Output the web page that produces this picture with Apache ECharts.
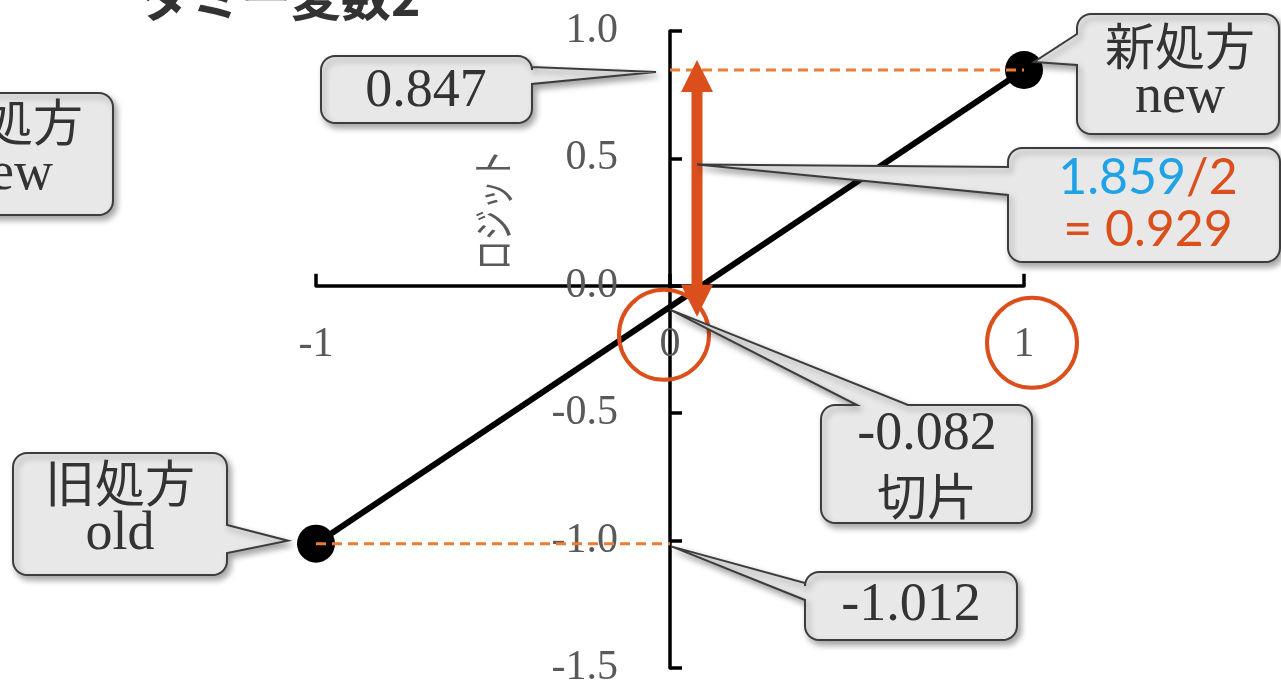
<!DOCTYPE html>
<html>
<head>
<meta charset="utf-8">
<script src="https://cdn.jsdelivr.net/npm/echarts@6/dist/echarts.min.js"></script>
<style>
  html, body { margin: 0; padding: 0; background: #ffffff; }
  #main { width: 1281px; height: 684px; }
</style>
</head>
<body>
<div id="main"></div>
<script>
// ---- data ----
const titleText = 'ダミー変数2';
const yAxisName = 'ロジット';
const xTickValues = [-1, 0, 1];
const yTickValues = [-1.5, -1.0, -0.5, 0.0, 0.5, 1.0];
const groupCodes = [-1, 1];            // 旧処方 = -1, 新処方 = 1
const groupNames = ['旧処方', '新処方'];
const groupNamesEn = ['old', 'new'];
const logitValues = [-1.012, 0.847];
const interceptValue = -0.082;
const diffText = '1.859';
const halfDiffText = '0.929';

// ---- colours / fonts ----
const SERIF = '"Liberation Serif", "DejaVu Serif", serif';
const CJK = '"Noto Sans CJK JP", "Noto Sans", sans-serif';
const SANS = 'Lato, "Noto Sans", sans-serif';
const AXIS_GREY = '#595959';
const TEXT_DARK = '#333333';
const ORANGE = '#ED7D31';
const RED_ORANGE = '#DA4F1C';
const BLUE = '#1FA2E6';
const BOX_FILL = '#E8E8E8';
const BOX_EDGE = '#3C3C3C';

// ---- layout of the plotting area ----
const W = 1281, H = 684;
const GRID = { left: 316, right: 257, top: 31, bottom: 16 };
const gridW = W - GRID.left - GRID.right;
const gridH = H - GRID.top - GRID.bottom;
const xMin = xTickValues[0], xMax = xTickValues[xTickValues.length - 1];
const yMin = yTickValues[0], yMax = yTickValues[yTickValues.length - 1];
// axes cross at the origin: shift each axis from the grid edge onto zero of the other one
const yAxisShift = gridW * (0 - xMin) / (xMax - xMin);
const xAxisShift = gridH * (0 - yMin) / (yMax - yMin);

const chart = echarts.init(document.getElementById('main'), null, { renderer: 'canvas' });

const linePoints = groupCodes.map((x, i) => [x, logitValues[i]]);
const guideNew = [[0, logitValues[1]], [groupCodes[1], logitValues[1]]];
const guideOld = [[groupCodes[0], logitValues[0]], [0, logitValues[0]]];

chart.setOption({
  animation: false,
  backgroundColor: '#ffffff',
  grid: Object.assign({ containLabel: false, outerBoundsMode: 'none' }, GRID),
  xAxis: {
    type: 'value', position: 'bottom', offset: -xAxisShift,
    min: xMin, max: xMax, interval: 1,
    axisLine: { show: true, onZero: false, lineStyle: { color: '#000', width: 3.5 } },
    axisTick: { show: true, inside: true, length: 12, lineStyle: { color: '#000', width: 3.5 } },
    axisLabel: {
      margin: 38, fontSize: 42, fontFamily: SERIF, color: AXIS_GREY,
      formatter: v => String(v)
    },
    splitLine: { show: false }
  },
  yAxis: {
    type: 'value', position: 'left', offset: -yAxisShift,
    min: yMin, max: yMax, interval: 0.5,
    axisLine: { show: true, onZero: false, lineStyle: { color: '#000', width: 3.5 } },
    axisTick: { show: true, inside: true, length: 12, lineStyle: { color: '#000', width: 3.5 } },
    axisLabel: {
      margin: 52, fontSize: 42, fontFamily: SERIF, color: AXIS_GREY,
      formatter: v => v.toFixed(1)
    },
    splitLine: { show: false }
  },
  series: [
    {
      name: 'logit',
      type: 'line',
      data: linePoints,
      symbol: 'circle',
      symbolSize: 38,
      itemStyle: { color: '#000' },
      lineStyle: { color: '#000', width: 6 },
      z: 3
    },
    {
      name: 'guide-new',
      type: 'line',
      data: guideNew,
      symbol: 'none',
      lineStyle: { color: ORANGE, width: 3, type: [10, 6] },
      z: 4
    },
    {
      name: 'guide-old',
      type: 'line',
      data: guideOld,
      symbol: 'none',
      lineStyle: { color: ORANGE, width: 3, type: [10, 6] },
      z: 4
    }
  ]
});

// ---- annotations (callouts, arrow, circles) ----
function arcPts(cx, cy, r, a0, a1, n) {
  const p = [];
  for (let i = 0; i <= n; i++) {
    const a = a0 + (a1 - a0) * i / n;
    p.push([cx + r * Math.cos(a), cy + r * Math.sin(a)]);
  }
  return p;
}

// rounded box with a wedge pointing at `tip`, wedge base between a and b on the given side
function calloutPoints(box, wedge) {
  const { x, y, w, h } = box; const r = 14; const pts = [];
  pts.push(...arcPts(x + r, y + r, r, Math.PI, 1.5 * Math.PI, 8));
  if (wedge && wedge.side === 'top') pts.push([wedge.a, y], wedge.tip, [wedge.b, y]);
  pts.push(...arcPts(x + w - r, y + r, r, 1.5 * Math.PI, 2 * Math.PI, 8));
  if (wedge && wedge.side === 'right') pts.push([x + w, wedge.a], wedge.tip, [x + w, wedge.b]);
  pts.push(...arcPts(x + w - r, y + h - r, r, 0, 0.5 * Math.PI, 8));
  if (wedge && wedge.side === 'bottom') pts.push([wedge.b, y + h], wedge.tip, [wedge.a, y + h]);
  pts.push(...arcPts(x + r, y + h - r, r, 0.5 * Math.PI, Math.PI, 8));
  if (wedge && wedge.side === 'left') pts.push([x, wedge.b], wedge.tip, [x, wedge.a]);
  return pts;
}

function calloutShape(box, wedge) {
  return {
    type: 'polygon',
    z: 100,
    shape: { points: calloutPoints(box, wedge) },
    style: {
      fill: BOX_FILL, stroke: BOX_EDGE, lineWidth: 2,
      shadowBlur: 6, shadowOffsetX: 3, shadowOffsetY: 4, shadowColor: 'rgba(0,0,0,0.35)'
    }
  };
}

function label(text, x, y, font, size, color) {
  return {
    type: 'text', z: 101, x: x, y: y,
    style: {
      text: text, fill: color || TEXT_DARK, font: size + 'px ' + font,
      align: 'center', verticalAlign: 'middle'
    }
  };
}

function px(pt) { return chart.convertToPixel({ gridIndex: 0 }, pt); }

const pNew = px(linePoints[1]);
const pOld = px(linePoints[0]);
const pNewOnAxis = px([0, logitValues[1]]);
const pOldOnAxis = px([0, logitValues[0]]);
const pIntercept = px([0, interceptValue]);
const pZero = px([0, 0]);
const pOne = px([1, 0]);

// double-headed arrow spanning intercept -> 新処方, drawn just right of the y axis
const arrowX = pZero[0] + 27;
const arrowTop = pNewOnAxis[1];
const arrowBot = pIntercept[1];
const headLen = 32, headHalf = 16, shaftHalf = 5.5, over = 10;
const tTip = arrowTop - over, bTip = arrowBot + over;
const arrowPts = [
  [arrowX, tTip],
  [arrowX + headHalf, tTip + headLen],
  [arrowX + shaftHalf, tTip + headLen],
  [arrowX + shaftHalf, bTip - headLen],
  [arrowX + headHalf, bTip - headLen],
  [arrowX, bTip],
  [arrowX - headHalf, bTip - headLen],
  [arrowX - shaftHalf, bTip - headLen],
  [arrowX - shaftHalf, tTip + headLen],
  [arrowX - headHalf, tTip + headLen]
];

const graphics = [
  // title (partly above the top edge)
  {
    type: 'text', z: 101, x: 141, y: -3,
    style: { text: titleText, fill: '#333333', font: 'bold 50px ' + CJK, align: 'left', verticalAlign: 'middle' }
  },
  // y axis name (condensed along its reading direction)
  {
    type: 'text', z: 101, x: 493, y: 210, rotation: Math.PI / 2, scaleX: 0.72, scaleY: 1,
    style: { text: yAxisName, fill: AXIS_GREY, font: '42px ' + CJK, align: 'center', verticalAlign: 'middle' }
  },
  // arrow
  { type: 'polygon', z: 90, shape: { points: arrowPts }, style: { fill: RED_ORANGE } },
  // circles around the 0 / 1 codes
  { type: 'circle', z: 90, shape: { cx: pZero[0] - 6, cy: pZero[1] + 49, r: 45 }, style: { fill: 'none', stroke: RED_ORANGE, lineWidth: 4 } },
  { type: 'circle', z: 90, shape: { cx: pOne[0] + 8, cy: pOne[1] + 57, r: 45 }, style: { fill: 'none', stroke: RED_ORANGE, lineWidth: 4 } },

  // 0.847
  calloutShape({ x: 321, y: 56, w: 211, h: 67 },
    { side: 'right', a: 67, b: 84, tip: [pNewOnAxis[0] - 14, pNewOnAxis[1] + 2] }),
  label(logitValues[1].toFixed(3), 426, 92, SERIF, 54),

  // 新処方 new
  calloutShape({ x: 1077, y: 14, w: 202, h: 120 },
    { side: 'left', a: 34, b: 65, tip: [pNew[0] + 10, pNew[1] - 8] }),
  label(groupNames[1], 1180, 46, CJK, 50),
  label(groupNamesEn[1], 1180, 98, SERIF, 54),

  // partly visible duplicate box on the far left
  calloutShape({ x: -95, y: 93, w: 208, h: 122 }, null),
  label(groupNames[1], 8, 122, CJK, 50),
  label(groupNamesEn[1], 8, 175, SERIF, 54),

  // 1.859/2 = 0.929
  calloutShape({ x: 1008, y: 148, w: 272, h: 114 },
    { side: 'left', a: 167, b: 195, tip: [arrowX, px([0, 0.476])[1]] }),
  {
    type: 'text', z: 101, x: 1148, y: 178,
    style: {
      text: '{b|' + diffText + '}{o|/2}', align: 'center', verticalAlign: 'middle',
      rich: {
        b: { fill: BLUE, font: '50px ' + SANS },
        o: { fill: RED_ORANGE, font: '50px ' + SANS }
      }
    }
  },
  label('= ' + halfDiffText, 1148, 230, SANS, 50, RED_ORANGE),

  // -0.082 切片
  calloutShape({ x: 821, y: 405, w: 211, h: 118 },
    { side: 'top', a: 857, b: 908, tip: [pIntercept[0], pIntercept[1] + 3] }),
  label(interceptValue.toFixed(3), 927, 435, SERIF, 54),
  label('切片', 927, 496, CJK, 50),

  // -1.012
  calloutShape({ x: 805, y: 572, w: 212, h: 68 },
    { side: 'left', a: 583, b: 600, tip: [pOldOnAxis[0] + 2, pOldOnAxis[1] + 3] }),
  label(logitValues[0].toFixed(3), 911, 606, SERIF, 54),

  // 旧処方 old
  calloutShape({ x: 13, y: 453, w: 214, h: 122 },
    { side: 'right', a: 525, b: 553, tip: [pOld[0] - 28, pOld[1] - 3] }),
  label(groupNames[0], 120, 483, CJK, 50),
  label(groupNamesEn[0], 120, 535, SERIF, 54)
];

chart.setOption({ graphic: graphics });
</script>
</body>
</html>
